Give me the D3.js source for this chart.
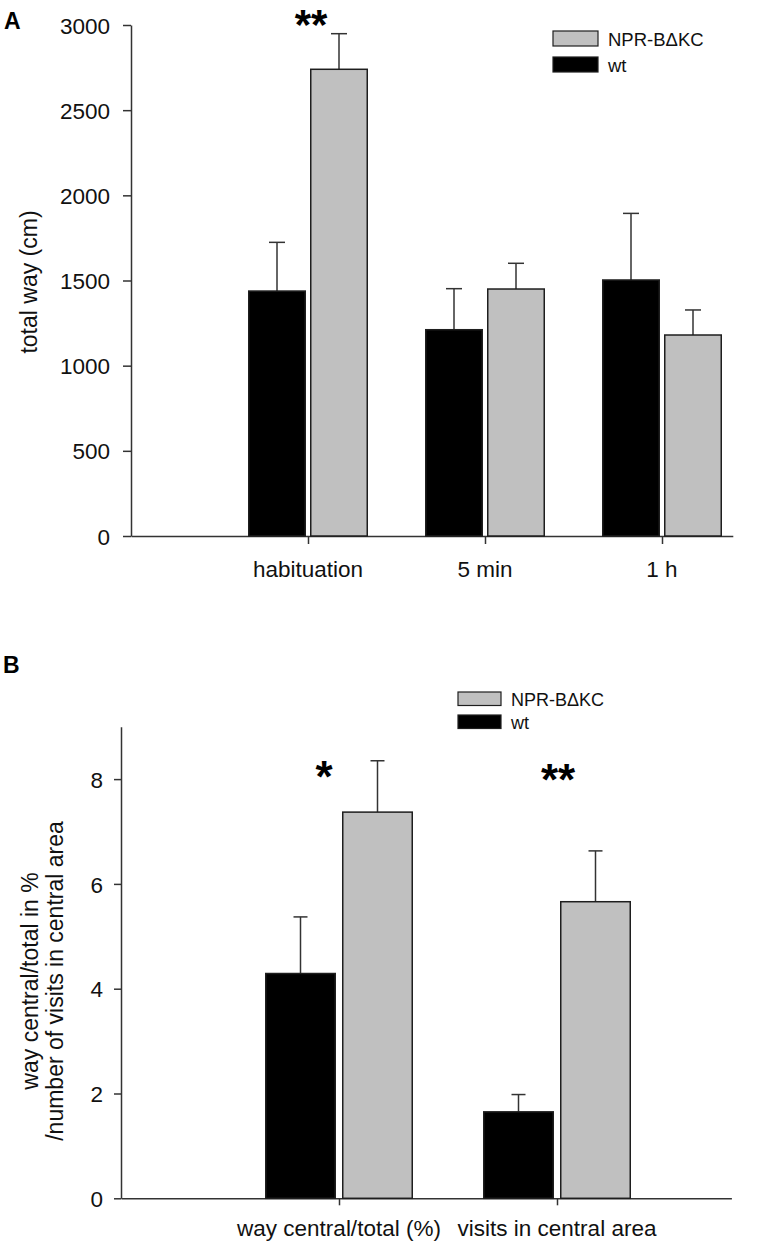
<!DOCTYPE html>
<html>
<head>
<meta charset="utf-8">
<script src="https://cdn.jsdelivr.net/npm/d3@7"></script>
<style>
  html, body { margin: 0; padding: 0; background: #fff; }
  svg { display: block; font-family: "Liberation Sans", Arial, sans-serif; }
</style>
</head>
<body>
<svg id="chart" width="757" height="1246"></svg>
<script>
// ---- Panel A data ----
const categoriesA = ["habituation", "5 min", "1 h"];
const wtA = [1438, 1211, 1503];
const wtErrA = [286, 241, 391];
const npraA = [2740, 1450, 1180];
const npraErrA = [209, 151, 147];
const ticksA = [0, 500, 1000, 1500, 2000, 2500, 3000];
const starsA = ["**", "", ""];

// ---- Panel B data ----
const categoriesB = ["way central/total (%)", "visits in central area"];
const wtB = [4.29, 1.65];
const wtErrB = [1.08, 0.33];
const npraB = [7.37, 5.66];
const npraErrB = [0.98, 0.97];
const ticksB = [0, 2, 4, 6, 8];
const starsB = ["*", "**"];

const seriesNames = ["NPR-B\u0394KC", "wt"];
const GREY = "#c0c0c0", BLACK = "#000000", AXIS = "#333333", EDGE = "#1e1e1e";

const svg = d3.select("#chart");

function panel(cfg) {
  const g = svg.append("g");
  const y = d3.scaleLinear().domain(cfg.yDomain).range([cfg.y0, cfg.yTop]);
  const x = d3.scaleLinear().domain([0, cfg.xMax]).range([cfg.x0, cfg.x0 + cfg.step * cfg.xMax]);

  // y axis
  const ya = g.append("g").attr("transform", `translate(${cfg.x0},0)`)
    .call(d3.axisLeft(y).tickValues(cfg.ticks).tickSize(cfg.tickLen).tickSizeOuter(0).tickPadding(cfg.tickPad).tickFormat(d3.format("d")));
  ya.select(".domain").attr("stroke", AXIS).attr("stroke-width", 1.5);
  ya.selectAll(".tick line").attr("stroke", AXIS).attr("stroke-width", 1.5);
  ya.selectAll(".tick text").attr("fill", "#111").style("font-size", "22.5px").attr("dy", "0.36em");

  // x axis
  const xa = g.append("g").attr("transform", `translate(0,${cfg.y0})`)
    .call(d3.axisBottom(x).tickValues(cfg.cats.map((c, i) => i + 1)).tickSize(cfg.tickLen).tickSizeOuter(0).tickFormat(""));
  xa.select(".domain").attr("stroke", AXIS).attr("stroke-width", 1.5);
  xa.selectAll(".tick line").attr("stroke", AXIS).attr("stroke-width", 1.5);

  // category labels
  g.selectAll("text.cat").data(cfg.cats).enter().append("text")
    .attr("class", "cat")
    .attr("x", (d, i) => x(i + 1))
    .attr("y", cfg.catY)
    .attr("text-anchor", "middle")
    .attr("fill", "#111")
    .style("font-size", "22.5px")
    .text(d => d);

  // bars
  const series = [
    { vals: cfg.wt, errs: cfg.wtErr, fill: BLACK, off: -cfg.gap / 2 - cfg.bw },
    { vals: cfg.np, errs: cfg.npErr, fill: GREY, off: cfg.gap / 2 }
  ];
  series.forEach(s => {
    const data = s.vals.map((v, i) => ({ v, e: s.errs[i], i }));
    // error bars
    g.selectAll(null).data(data).enter().append("line")
      .attr("x1", d => x(d.i + 1) + s.off + cfg.bw / 2)
      .attr("x2", d => x(d.i + 1) + s.off + cfg.bw / 2)
      .attr("y1", d => y(d.v)).attr("y2", d => y(d.v + d.e))
      .attr("stroke", AXIS).attr("stroke-width", 1.5);
    g.selectAll(null).data(data).enter().append("line")
      .attr("x1", d => x(d.i + 1) + s.off + cfg.bw / 2 - cfg.cap / 2)
      .attr("x2", d => x(d.i + 1) + s.off + cfg.bw / 2 + cfg.cap / 2)
      .attr("y1", d => y(d.v + d.e)).attr("y2", d => y(d.v + d.e))
      .attr("stroke", AXIS).attr("stroke-width", 1.5);
    g.selectAll(null).data(data).enter().append("rect")
      .attr("x", d => x(d.i + 1) + s.off)
      .attr("width", cfg.bw)
      .attr("y", d => y(d.v))
      .attr("height", d => y(0) - y(d.v))
      .attr("fill", s.fill)
      .attr("stroke", EDGE).attr("stroke-width", 1.5);
  });

  // stars
  g.selectAll("text.star").data(cfg.stars).enter().append("text")
    .attr("class", "star")
    .attr("x", (d, i) => x(i + 1) + cfg.starDx[i])
    .attr("y", (d, i) => cfg.starY[i])
    .attr("text-anchor", "middle")
    .attr("fill", "#000")
    .style("font-size", cfg.starFont + "px").style("font-weight", "bold")
    .text(d => d);

  // legend
  const lg = g.append("g");
  const legItems = [{ name: seriesNames[0], fill: GREY }, { name: seriesNames[1], fill: BLACK }];
  legItems.forEach((it, k) => {
    lg.append("rect")
      .attr("x", cfg.legX).attr("y", cfg.legY[k])
      .attr("width", cfg.legW).attr("height", cfg.legH)
      .attr("fill", it.fill).attr("stroke", EDGE).attr("stroke-width", 1.2);
    lg.append("text")
      .attr("x", cfg.legX + cfg.legW + 10).attr("y", cfg.legY[k] + cfg.legH)
      .attr("fill", "#111").style("font-size", cfg.legFont + "px")
      .text(it.name);
  });

  // y label
  const yl = g.append("text")
    .attr("transform", `translate(${cfg.ylabX},${cfg.ylabY}) rotate(-90)`)
    .attr("text-anchor", "middle").attr("fill", "#111").style("font-size", "23px");
  cfg.ylab.forEach((t, k) => {
    yl.append("tspan").attr("x", 0).attr("y", k * 25.5).text(t);
  });

  // panel letter
  g.append("text").attr("x", cfg.letX).attr("y", cfg.letY)
    .style("font-size", "23px").style("font-weight", "bold").attr("fill", "#000").text(cfg.letter);
}

panel({
  cats: categoriesA, wt: wtA, wtErr: wtErrA, np: npraA, npErr: npraErrA, ticks: ticksA, stars: starsA,
  yDomain: [0, 3000], y0: 536, yTop: 25, x0: 131, step: 177, xMax: 3.4,
  tickLen: 8, tickPad: 13, bw: 56.5, gap: 5.5, cap: 16, catY: 577,
  starDx: [3, 0, 0], starY: [39, 0, 0], starFont: 42,
  legX: 553, legY: [31, 57], legW: 45, legH: 15, legFont: 18.5,
  ylab: ["total way (cm)"], ylabX: 37, ylabY: 282,
  letter: "A", letX: 4, letY: 29
});

panel({
  cats: categoriesB, wt: wtB, wtErr: wtErrB, np: npraB, npErr: npraErrB, ticks: ticksB, stars: starsB,
  yDomain: [0, 9], y0: 1198.3, yTop: 726.7, x0: 121, step: 218, xMax: 2.8,
  tickLen: 7, tickPad: 11, bw: 69.5, gap: 7.5, cap: 14, catY: 1236,
  starDx: [-15, 1], starY: [792, 795], starFont: 44,
  legX: 458, legY: [692, 715], legW: 43, legH: 13.5, legFont: 18,
  ylab: ["way central/total in %", "/number of visits in central area"], ylabX: 37.5, ylabY: 981,
  letter: "B", letX: 3, letY: 673
});
</script>
</body>
</html>
